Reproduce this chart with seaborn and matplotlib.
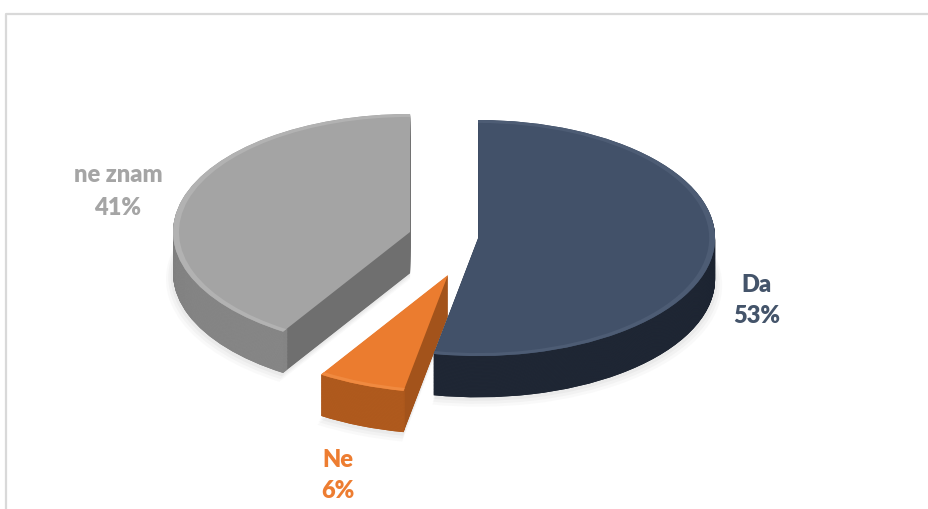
import numpy as np
import matplotlib
matplotlib.use("Agg")
import matplotlib.pyplot as plt
from matplotlib.lines import Line2D
import seaborn as sns

# Survey answers and their shares (percent)
categories = ["Da", "Ne", "ne znam"]
shares = [53, 6, 41]
pct_labels = ["53%", "6%", "41%"]

sns.set_theme(style="white")
plt.rcParams["font.family"] = ["Lato", "DejaVu Sans"]

# Office-like palette: top faces, outer rims, cut faces
top_colors = ["#425169", "#EB7C2F", "#A4A4A4"]
rim_colors = ["#212937", "#B45D1F", "#8F8F8F"]
cut_colors = ["#1B222E", "#A3531B", "#6F6F6F"]
bevel_colors = ["#4D5C74", "#F08A40", "#B2B2B2"]
label_colors = ["#44546A", "#ED7D31", "#A5A5A5"]

W, H = 929, 509
RX, RY = 237, 118          # pixel size of a unit radius, horizontally / vertically
CX, CY = 443, 236          # pixel position of the pie centre

fig = plt.figure(figsize=(W / 100, H / 100), dpi=100)
ax = fig.add_axes([0, 0, 1, 1])

# slice displacement (exploded layout) in radius units, and extrusion depth
offsets = [(0.148, -0.017), (0.021, -0.33), (-0.139, 0.034)]
depth = 0.35


def layer(colors, drop, width=None, radius=1.0, alpha=1.0):
    props = dict(linewidth=0, alpha=alpha)
    if width is not None:
        props["width"] = width
    wedges, _ = ax.pie(shares, startangle=90, counterclock=False,
                       colors=colors, radius=radius, wedgeprops=props)
    for w, (dx, dy) in zip(wedges, offsets):
        w.set_center((dx, dy - drop))
    return wedges


# soft shadow beneath the slices
for k, a in enumerate([0.05, 0.07, 0.09]):
    layer(["#9A9A9A"] * 3, depth + 0.05 - 0.015 * k, radius=1.03 - 0.01 * k, alpha=a)

# extruded sides: cut faces, with the outer rim painted on top of each layer
for t in np.linspace(depth, 0.0, 72)[:-1]:
    layer(cut_colors, t)
    layer(rim_colors, t, width=0.035)

# top faces with a faint bevel highlight along the rim
layer(top_colors, 0.0)
layer(bevel_colors, 0.0, width=0.025)

ax.set_aspect("auto")
ax.set_xlim(-CX / RX, (W - CX) / RX)
ax.set_ylim(-(H - CY) / RY, CY / RY)
ax.axis("off")

# data labels (category on first line, share on second)
label_pos = {"Da": (757, 292, 31), "Ne": (338, 467, 31), "ne znam": (118, 182, 33)}
for cat, pct, col in zip(categories, pct_labels, label_colors):
    x, y, gap = label_pos[cat]
    for txt, yy in ((cat, y), (pct, y + gap)):
        fig.text(x / W, 1 - yy / H, txt, ha="center", va="baseline",
                 fontsize=17, fontweight="heavy", color=col)

# chart area border
fig.add_artist(Line2D([6 / W, 6 / W, 1.0], [0.0, 1 - 14 / H, 1 - 14 / H],
                      transform=fig.transFigure, color="#D9D9D9", lw=1.6))

fig.savefig("out.png", dpi=100)
